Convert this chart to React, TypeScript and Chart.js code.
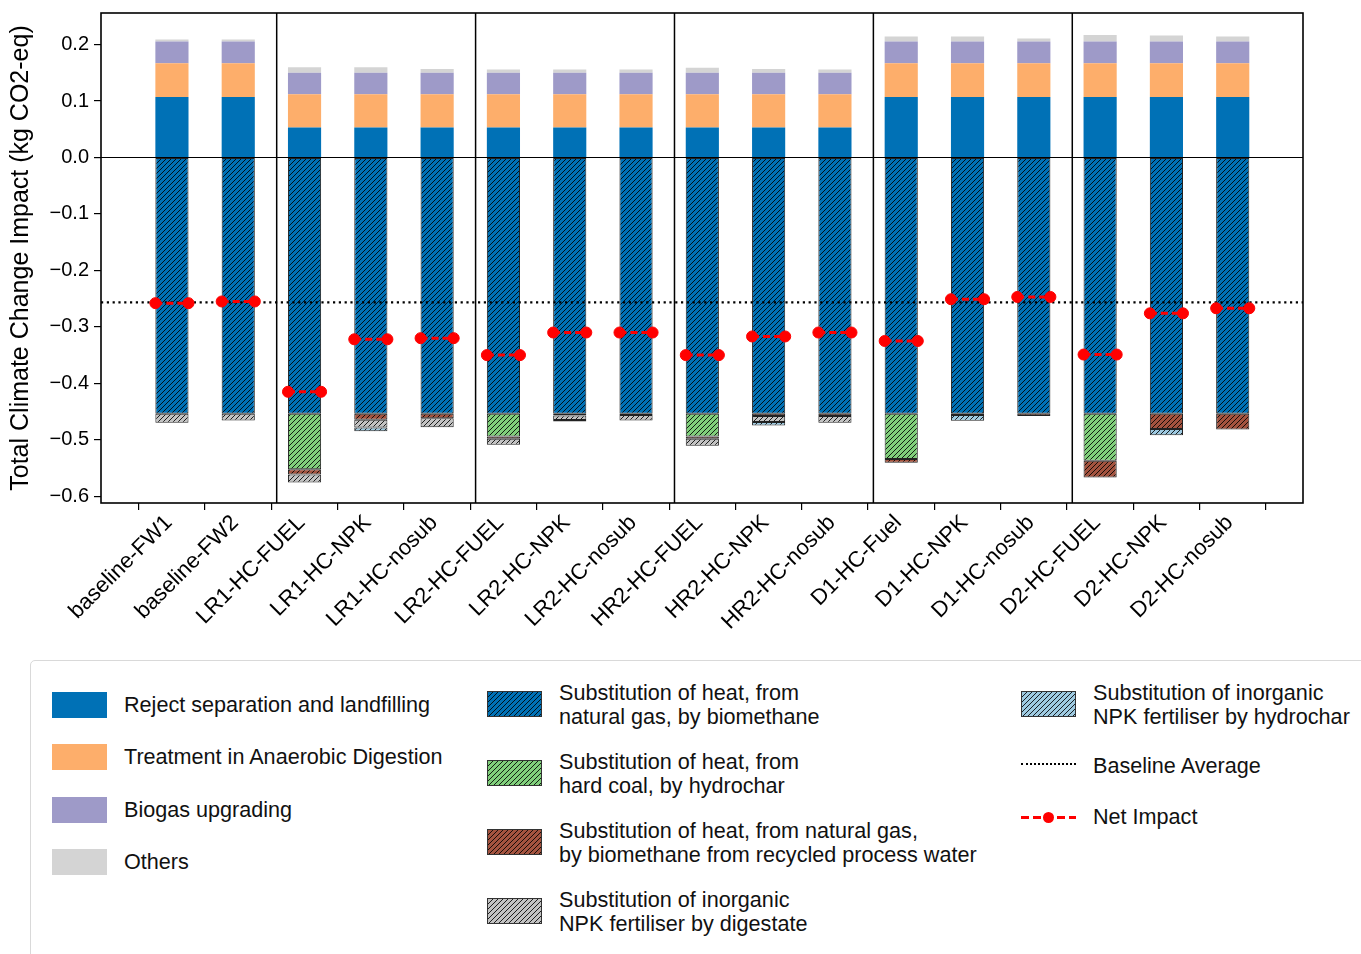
import React, { useEffect, useMemo, useRef } from 'react';
import { Chart, registerables } from 'chart.js';

Chart.register(...registerables);

// ---------------- data ----------------
const CATEGORIES = [
  'baseline-FW1', 'baseline-FW2',
  'LR1-HC-FUEL', 'LR1-HC-NPK', 'LR1-HC-nosub',
  'LR2-HC-FUEL', 'LR2-HC-NPK', 'LR2-HC-nosub',
  'HR2-HC-FUEL', 'HR2-HC-NPK', 'HR2-HC-nosub',
  'D1-HC-Fuel', 'D1-HC-NPK', 'D1-HC-nosub',
  'D2-HC-FUEL', 'D2-HC-NPK', 'D2-HC-nosub',
];

const REJECT_LANDFILL = [0.107, 0.107, 0.053, 0.053, 0.053, 0.053, 0.053, 0.053, 0.053, 0.053, 0.053, 0.107, 0.107, 0.107, 0.107, 0.107, 0.107];
const ANAEROBIC_DIGESTION = [0.060, 0.060, 0.059, 0.059, 0.059, 0.059, 0.059, 0.059, 0.059, 0.059, 0.059, 0.060, 0.060, 0.060, 0.060, 0.060, 0.060];
const BIOGAS_UPGRADING = [0.0385, 0.0385, 0.038, 0.038, 0.038, 0.038, 0.038, 0.038, 0.038, 0.038, 0.038, 0.0385, 0.0385, 0.0385, 0.0385, 0.0385, 0.0385];
const OTHERS = [0.0035, 0.0035, 0.010, 0.010, 0.007, 0.006, 0.006, 0.006, 0.009, 0.007, 0.006, 0.009, 0.009, 0.0055, 0.0115, 0.0105, 0.009];

const SUB_NATURAL_GAS = [-0.454, -0.454, -0.454, -0.454, -0.454, -0.454, -0.454, -0.454, -0.454, -0.454, -0.454, -0.454, -0.454, -0.454, -0.454, -0.454, -0.454];
const SUB_HARD_COAL = [null, null, -0.098, null, null, -0.040, null, null, -0.040, null, null, -0.080, null, null, -0.083, null, null];
const SUB_RECYCLED_WATER = [null, null, -0.0096, -0.0107, -0.0078, -0.004, -0.003, -0.002, -0.004, -0.004, -0.004, -0.0065, -0.002, -0.004, -0.030, -0.027, -0.028];
const SUB_NPK_DIGESTATE = [-0.016, -0.012, -0.014, -0.0136, -0.016, -0.0107, -0.008, -0.010, -0.0126, -0.0107, -0.0117, null, null, null, null, null, null];
const SUB_NPK_HYDROCHAR = [null, null, null, -0.0066, null, null, -0.0027, null, null, -0.0058, null, null, -0.0105, null, null, -0.011, null];

const NET_IMPACT = [-0.258, -0.255, -0.415, -0.322, -0.320, -0.350, -0.310, -0.310, -0.350, -0.317, -0.310, -0.325, -0.251, -0.247, -0.349, -0.276, -0.267];
const BASELINE_AVERAGE = -0.2565;

const GROUP_BOUNDARIES = [1.58, 4.58, 7.58, 10.58, 13.58];
const Y_TICKS = [-0.6, -0.5, -0.4, -0.3, -0.2, -0.1, 0.0, 0.1, 0.2];
const X_MIN = -1.07;
const X_MAX = 17.06;
const Y_MIN = -0.612;
const Y_MAX = 0.256;
const Y_TITLE = 'Total Climate Change Impact (kg CO2-eq)';

// ---------------- styles ----------------
const FONT = '"Liberation Sans", Arial, Helvetica, sans-serif';
const C_REJECT = '#0071b6';
const C_AD = '#fdae6b';
const C_UPGRADE = '#9e9ac8';
const C_OTHERS = '#d4d4d4';
const C_NATGAS = '#0071b6';
const C_COAL = '#80cf7b';
const C_RECYCLED = '#a3533f';
const C_DIGESTATE = '#c2c2c2';
const C_HYDROCHAR = '#9ecae1';

function makeHatch(fill: string, size = 5): HTMLCanvasElement {
  const c = document.createElement('canvas');
  c.width = size;
  c.height = size;
  const g = c.getContext('2d')!;
  g.fillStyle = fill;
  g.fillRect(0, 0, size, size);
  g.strokeStyle = 'rgba(0,0,0,0.85)';
  g.lineWidth = 1;
  g.beginPath();
  g.moveTo(0, size);
  g.lineTo(size, 0);
  g.moveTo(-1, 1);
  g.lineTo(1, -1);
  g.moveTo(size - 1, size + 1);
  g.lineTo(size + 1, size - 1);
  g.stroke();
  return c;
}

const framePlugin = {
  id: 'frameLines',
  afterDatasetsDraw(chart: any) {
    const { ctx, chartArea: a, scales } = chart;
    ctx.save();
    ctx.strokeStyle = '#000';
    const y0 = scales.y.getPixelForValue(0);
    ctx.lineWidth = 1.2;
    ctx.beginPath();
    ctx.moveTo(a.left, y0);
    ctx.lineTo(a.right, y0);
    ctx.stroke();
    ctx.lineWidth = 1.5;
    GROUP_BOUNDARIES.forEach((b) => {
      const px = scales.x.getPixelForValue(b);
      ctx.beginPath();
      ctx.moveTo(px, a.top);
      ctx.lineTo(px, a.bottom);
      ctx.stroke();
    });
    ctx.lineWidth = 1.6;
    ctx.strokeRect(a.left, a.top, a.right - a.left, a.bottom - a.top);
    ctx.restore();
  },
};

type LegendEntry = {
  label: string;
  kind: 'solid' | 'hatch' | 'dotted' | 'net';
  color?: string;
  x: number;
  cy: number;
};

const LEGEND: LegendEntry[] = [
  { label: 'Reject separation and landfilling', kind: 'solid', color: C_REJECT, x: 52, cy: 705 },
  { label: 'Treatment in Anaerobic Digestion', kind: 'solid', color: C_AD, x: 52, cy: 757 },
  { label: 'Biogas upgrading', kind: 'solid', color: C_UPGRADE, x: 52, cy: 810 },
  { label: 'Others', kind: 'solid', color: C_OTHERS, x: 52, cy: 862 },
  { label: 'Substitution of heat, from\nnatural gas, by biomethane', kind: 'hatch', color: C_NATGAS, x: 487, cy: 704 },
  { label: 'Substitution of heat, from\nhard coal, by hydrochar', kind: 'hatch', color: C_COAL, x: 487, cy: 773 },
  { label: 'Substitution of heat, from natural gas,\nby biomethane from recycled process water', kind: 'hatch', color: C_RECYCLED, x: 487, cy: 842 },
  { label: 'Substitution of inorganic\nNPK fertiliser by digestate', kind: 'hatch', color: C_DIGESTATE, x: 487, cy: 911 },
  { label: 'Substitution of inorganic\nNPK fertiliser by hydrochar', kind: 'hatch', color: C_HYDROCHAR, x: 1021, cy: 704 },
  { label: 'Baseline Average', kind: 'dotted', x: 1021, cy: 766 },
  { label: 'Net Impact', kind: 'net', x: 1021, cy: 817 },
];

export default function App() {
  const canvasRef = useRef<HTMLCanvasElement>(null);

  const hatchUrls = useMemo(() => {
    const m: Record<string, string> = {};
    [C_NATGAS, C_COAL, C_RECYCLED, C_DIGESTATE, C_HYDROCHAR].forEach((c) => {
      m[c] = makeHatch(c).toDataURL();
    });
    return m;
  }, []);

  useEffect(() => {
    const canvas = canvasRef.current!;
    const ctx = canvas.getContext('2d')!;
    const pat = (c: string) => ctx.createPattern(makeHatch(c), 'repeat');
    const pts = (arr: (number | null)[]) => arr.map((v, i) => ({ x: i, y: v }));

    const netPts: { x: number; y: number | null }[] = [];
    NET_IMPACT.forEach((v, i) => {
      netPts.push({ x: i - 0.25, y: v }, { x: i + 0.25, y: v }, { x: i + 0.5, y: null });
    });

    const solid = (label: string, arr: number[], color: string) => ({
      type: 'bar' as const,
      label,
      data: pts(arr),
      backgroundColor: color,
      borderWidth: 0,
      order: 2,
    });
    const hatched = (label: string, arr: (number | null)[], color: string) => ({
      type: 'bar' as const,
      label,
      data: pts(arr),
      backgroundColor: pat(color),
      borderColor: '#222',
      borderWidth: 1,
      borderSkipped: false,
      order: 2,
    });

    const chart = new Chart(ctx, {
      type: 'bar',
      data: {
        datasets: [
          {
            type: 'line',
            label: 'Net Impact',
            data: netPts,
            borderColor: '#ff0000',
            backgroundColor: '#ff0000',
            borderWidth: 3,
            borderDash: [7, 4],
            pointRadius: 5.5,
            pointBackgroundColor: '#ff0000',
            pointBorderColor: '#ff0000',
            pointBorderWidth: 1,
            spanGaps: false,
            stack: 'net',
            order: 0,
          } as any,
          {
            type: 'line',
            label: 'Baseline Average',
            data: [
              { x: X_MIN, y: BASELINE_AVERAGE },
              { x: X_MAX, y: BASELINE_AVERAGE },
            ],
            borderColor: '#000',
            borderWidth: 2.2,
            borderDash: [2.2, 3.6],
            pointRadius: 0,
            stack: 'base',
            order: 1,
          } as any,
          solid('Reject separation and landfilling', REJECT_LANDFILL, C_REJECT),
          solid('Treatment in Anaerobic Digestion', ANAEROBIC_DIGESTION, C_AD),
          solid('Biogas upgrading', BIOGAS_UPGRADING, C_UPGRADE),
          solid('Others', OTHERS, C_OTHERS),
          hatched('Substitution of heat, from natural gas, by biomethane', SUB_NATURAL_GAS, C_NATGAS),
          hatched('Substitution of heat, from hard coal, by hydrochar', SUB_HARD_COAL, C_COAL),
          hatched('Substitution of heat, from natural gas, by biomethane from recycled process water', SUB_RECYCLED_WATER, C_RECYCLED),
          hatched('Substitution of inorganic NPK fertiliser by digestate', SUB_NPK_DIGESTATE, C_DIGESTATE),
          hatched('Substitution of inorganic NPK fertiliser by hydrochar', SUB_NPK_HYDROCHAR, C_HYDROCHAR),
        ] as any,
      },
      options: {
        responsive: false,
        animation: false,
        events: [],
        layout: { padding: { top: 13, right: 58, left: 0, bottom: 0 } },
        datasets: { bar: { barPercentage: 0.5, categoryPercentage: 1 } },
        plugins: { legend: { display: false }, tooltip: { enabled: false } },
        scales: {
          x: {
            type: 'linear',
            min: X_MIN,
            max: X_MAX,
            stacked: true,
            offset: false,
            afterBuildTicks: (s: any) => {
              s.ticks = CATEGORIES.map((_, i) => ({ value: i }));
            },
            afterFit: (s: any) => {
              s.height = 147;
              s.paddingLeft = 0;
              s.paddingRight = 0;
            },
            grid: { display: true, drawOnChartArea: false, drawTicks: true, tickLength: 7, color: '#000', lineWidth: 1.2 },
            border: { display: false },
            ticks: {
              autoSkip: false,
              maxRotation: 45,
              minRotation: 45,
              padding: 0,
              labelOffset: -3,
              color: '#000',
              font: { family: FONT, size: 22 },
              callback: (v: any) => CATEGORIES[v as number] ?? '',
            },
          },
          y: {
            type: 'linear',
            min: Y_MIN,
            max: Y_MAX,
            stacked: true,
            afterBuildTicks: (s: any) => {
              s.ticks = Y_TICKS.map((v) => ({ value: v }));
            },
            afterFit: (s: any) => {
              s.width = 101;
              s.paddingTop = 0;
              s.paddingBottom = 0;
            },
            grid: { display: true, drawOnChartArea: false, drawTicks: true, tickLength: 7, color: '#000', lineWidth: 1.2 },
            border: { display: false },
            title: {
              display: true,
              text: Y_TITLE,
              color: '#000',
              font: { family: FONT, size: 25 },
              padding: { top: 6, bottom: 0 },
            },
            ticks: {
              padding: 5,
              color: '#000',
              font: { family: FONT, size: 20 },
              callback: (v: any) => {
                const n = Number(v);
                return (n < -1e-9 ? '\u2212' : '') + Math.abs(n).toFixed(1);
              },
            },
          },
        },
      } as any,
      plugins: [framePlugin],
    });
    return () => chart.destroy();
  }, []);

  const textStyle: React.CSSProperties = {
    position: 'absolute',
    fontFamily: FONT,
    fontSize: 21.6,
    lineHeight: '23.5px',
    color: '#111',
    whiteSpace: 'pre',
    transform: 'translateY(-50%)',
  };

  return (
    <div style={{ position: 'absolute', left: 0, top: 0, width: 1361, height: 954, overflow: 'hidden', background: '#fff' }}>
      <canvas ref={canvasRef} width={1361} height={650} style={{ position: 'absolute', left: 0, top: 0, width: 1361, height: 650 }} />
      <div
        style={{
          position: 'absolute',
          left: 30,
          top: 660,
          width: 1360,
          height: 320,
          border: '1px solid #d9d9d9',
          borderRadius: 5,
          boxSizing: 'border-box',
        }}
      />
      {LEGEND.map((e) => (
        <React.Fragment key={e.label}>
          {e.kind === 'solid' && (
            <div style={{ position: 'absolute', left: e.x, top: e.cy - 13, width: 55, height: 26, background: e.color }} />
          )}
          {e.kind === 'hatch' && (
            <div
              style={{
                position: 'absolute',
                left: e.x,
                top: e.cy - 13,
                width: 55,
                height: 26,
                boxSizing: 'border-box',
                border: '1px solid #333',
                backgroundImage: `url(${hatchUrls[e.color!]})`,
                backgroundRepeat: 'repeat',
              }}
            />
          )}
          {e.kind === 'dotted' && (
            <div style={{ position: 'absolute', left: e.x, top: e.cy - 3, width: 55, height: 0, borderTop: '2.5px dotted #000' }} />
          )}
          {e.kind === 'net' && (
            <>
              <div style={{ position: 'absolute', left: e.x, top: e.cy - 1.5, width: 55, height: 3, background: 'repeating-linear-gradient(90deg, #f00 0 8px, transparent 8px 12px)' }} />
              <div style={{ position: 'absolute', left: e.x + 27.5 - 5.5, top: e.cy - 5.5, width: 11, height: 11, borderRadius: '50%', background: '#f00' }} />
            </>
          )}
          <div style={{ ...textStyle, left: e.x + 72, top: e.cy }}>{e.label}</div>
        </React.Fragment>
      ))}
    </div>
  );
}
